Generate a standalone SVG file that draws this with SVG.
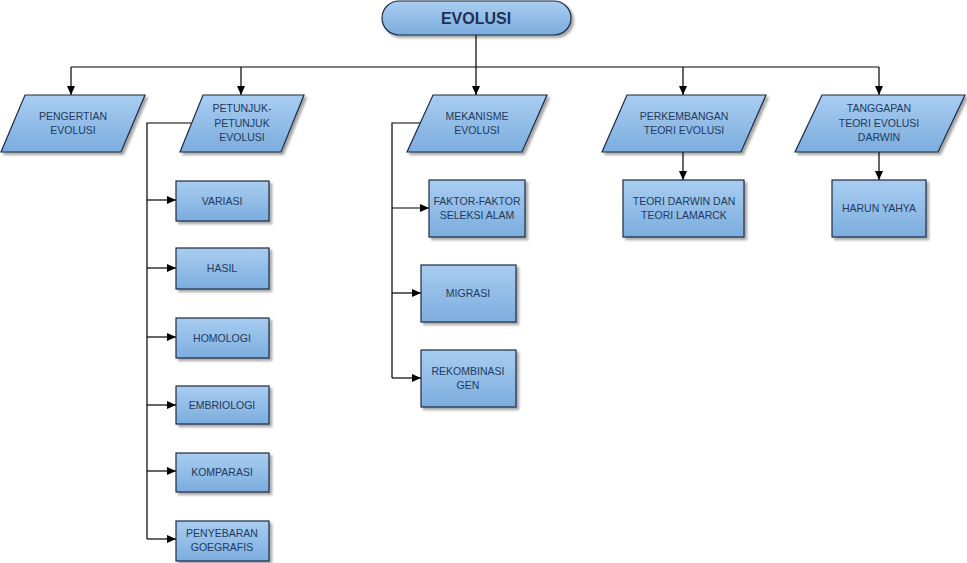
<svg xmlns="http://www.w3.org/2000/svg" width="967" height="563" viewBox="0 0 967 563">
<defs>
<linearGradient id="g" x1="0" y1="0" x2="0" y2="1">
<stop offset="0" stop-color="#a9cdf1"/>
<stop offset="1" stop-color="#7badde"/>
</linearGradient>
<filter id="sh" x="-10%" y="-10%" width="130%" height="140%">
<feDropShadow dx="2.5" dy="2.5" stdDeviation="1.2" flood-color="#000" flood-opacity="0.35"/>
</filter>
<marker id="ah" markerWidth="10" markerHeight="10" refX="9" refY="5" orient="auto" markerUnits="userSpaceOnUse">
<path d="M0,1 L9,5 L0,9 Z" fill="#000"/>
</marker>
</defs>
<style>
.n{fill:url(#g);stroke:#1b2a44;stroke-width:1.2;filter:url(#sh)}
.t{font-family:"Liberation Sans",Arial,sans-serif;font-size:10.5px;fill:#233a5c;text-anchor:middle}
.tt{font-family:"Liberation Sans",Arial,sans-serif;font-size:16px;font-weight:bold;fill:#1f3156;text-anchor:middle}
.c{fill:none;stroke:#000;stroke-width:1.2}
.a{marker-end:url(#ah)}
</style>
<rect width="967" height="563" fill="#fff"/>
<g id="connectors">
<path class="c" d="M476,35 V67 M71,67 H879"/>
<path class="c a" d="M71,67 V95"/>
<path class="c a" d="M241,67 V95"/>
<path class="c a" d="M476,67 V95"/>
<path class="c a" d="M683,67 V95"/>
<path class="c a" d="M879,67 V95"/>
<path class="c a" d="M683,152 V180"/>
<path class="c a" d="M879,152 V180"/>
<path class="c" d="M191,123 H147 V539"/>
<path class="c a" d="M147,200 H176"/>
<path class="c a" d="M147,268 H176"/>
<path class="c a" d="M147,337 H176"/>
<path class="c a" d="M147,405 H176"/>
<path class="c a" d="M147,471 H176"/>
<path class="c a" d="M147,539 H176"/>
<path class="c" d="M420,123 H392 V378"/>
<path class="c a" d="M392,208 H429"/>
<path class="c a" d="M392,293 H421"/>
<path class="c a" d="M392,378 H421"/>
</g>
<g id="evolusi">
<rect class="n" x="382" y="1" width="189" height="34" rx="17"/>
<text class="tt" x="476" y="24">EVOLUSI</text>
</g>
<g id="pengertian">
<polygon class="n" points="25,95 145,95 121,152 1,152"/>
<text class="t" x="73" y="120">PENGERTIAN</text>
<text class="t" x="73" y="134">EVOLUSI</text>
</g>
<g id="petunjuk">
<polygon class="n" points="203,95 304,95 281,152 180,152"/>
<text class="t" x="242" y="112">PETUNJUK-</text>
<text class="t" x="242" y="127">PETUNJUK</text>
<text class="t" x="242" y="141">EVOLUSI</text>
</g>
<g id="mekanisme">
<polygon class="n" points="433,95 547,95 522,152 407,152"/>
<text class="t" x="477" y="120">MEKANISME</text>
<text class="t" x="477" y="134">EVOLUSI</text>
</g>
<g id="perkembangan">
<polygon class="n" points="627,95 766,95 741,152 602,152"/>
<text class="t" x="684" y="120">PERKEMBANGAN</text>
<text class="t" x="684" y="134">TEORI EVOLUSI</text>
</g>
<g id="tanggapan">
<polygon class="n" points="822,95 965,95 938,152 795,152"/>
<text class="t" x="879" y="112">TANGGAPAN</text>
<text class="t" x="879" y="127">TEORI EVOLUSI</text>
<text class="t" x="879" y="141">DARWIN</text>
</g>
<g id="variasi">
<rect class="n" x="176" y="181" width="93" height="40"/>
<text class="t" x="222" y="205">VARIASI</text>
</g>
<g id="hasil">
<rect class="n" x="176" y="248" width="93" height="41"/>
<text class="t" x="222" y="272">HASIL</text>
</g>
<g id="homologi">
<rect class="n" x="176" y="318" width="93" height="40"/>
<text class="t" x="222" y="342">HOMOLOGI</text>
</g>
<g id="embriologi">
<rect class="n" x="176" y="386" width="93" height="38"/>
<text class="t" x="222" y="409">EMBRIOLOGI</text>
</g>
<g id="komparasi">
<rect class="n" x="176" y="453" width="93" height="39"/>
<text class="t" x="222" y="476">KOMPARASI</text>
</g>
<g id="penyebaran">
<rect class="n" x="176" y="521" width="93" height="40"/>
<text class="t" x="222" y="537">PENYEBARAN</text>
<text class="t" x="222" y="551">GOEGRAFIS</text>
</g>
<g id="faktor">
<rect class="n" x="429" y="180" width="96" height="57"/>
<text class="t" x="477" y="205">FAKTOR-FAKTOR</text>
<text class="t" x="477" y="219">SELEKSI ALAM</text>
</g>
<g id="migrasi">
<rect class="n" x="421" y="265" width="95" height="57"/>
<text class="t" x="468" y="297">MIGRASI</text>
</g>
<g id="rekombinasi">
<rect class="n" x="421" y="350" width="95" height="57"/>
<text class="t" x="468" y="375">REKOMBINASI</text>
<text class="t" x="468" y="389">GEN</text>
</g>
<g id="darwin-lamarck">
<rect class="n" x="623" y="180" width="121" height="57"/>
<text class="t" x="684" y="205">TEORI DARWIN DAN</text>
<text class="t" x="684" y="219">TEORI LAMARCK</text>
</g>
<g id="harun">
<rect class="n" x="832" y="180" width="94" height="57"/>
<text class="t" x="879" y="212">HARUN YAHYA</text>
</g>
</svg>
